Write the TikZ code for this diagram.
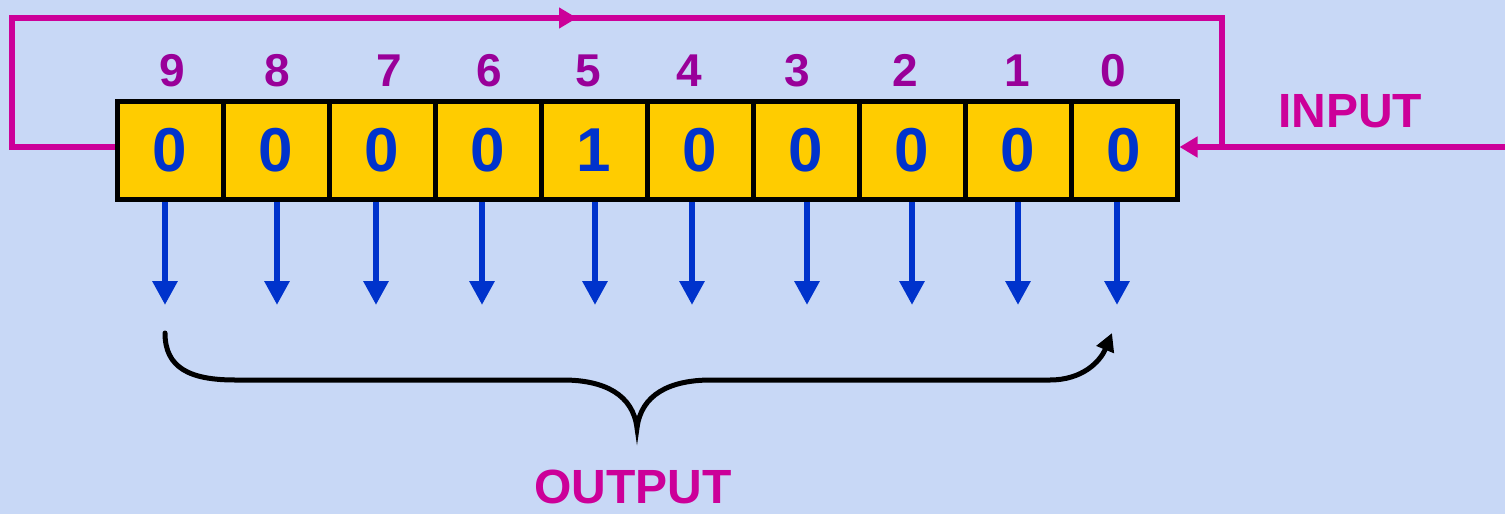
\documentclass[tikz,border=0pt]{standalone}
\usepackage{fontspec}
\setmainfont{Liberation Sans}
\usetikzlibrary{arrows.meta}
\definecolor{bg}{RGB}{200,216,246}
\definecolor{mag}{RGB}{204,0,153}
\definecolor{idx}{RGB}{153,0,153}
\definecolor{bitblue}{RGB}{0,51,204}
\definecolor{cellfill}{RGB}{255,204,0}
\begin{document}
\begin{tikzpicture}[x=0.5pt,y=-0.5pt,
  cell/.style={draw=black, line width=2.5pt, fill=cellfill, minimum width=53pt, minimum height=49pt, inner sep=0pt, font=\fontsize{31}{31}\selectfont\bfseries, text=bitblue},
  idxlab/.style={font=\fontsize{23}{23}\selectfont\bfseries, text=idx, anchor=base, inner sep=0pt},
  biglab/.style={font=\fontsize{24}{24}\selectfont\bfseries, text=mag, anchor=base, inner sep=0pt},
  magline/.style={draw=mag, line width=3pt},
  magtip/.style={-{Triangle[width=10pt,length=9pt]}},
  outarrow/.style={draw=bitblue, line width=3pt, -{Triangle[width=12pt,length=12pt]}},
  brace/.style={draw=black, line width=2.5pt, line cap=round, -{Triangle[width=9pt,length=9pt]}}]
\fill[bg] (0,0) rectangle (1505,514);
\useasboundingbox (0,0) rectangle (1505,514);
% cells
\foreach \i/\x/\v in {9/170/0,8/276/0,7/382/0,6/488/0,5/594/1,4/700/0,3/806/0,2/912/0,1/1018/0,0/1124/0}
  \node[cell] (c\i) at (\x,150) {\v};
% index labels
\foreach \i/\x in {9/172,8/277,7/389,6/489,5/588,4/689,3/797,2/905,1/1017,0/1113}
  \node[idxlab] (n\i) at (\x,86) {\i};
% output arrows
\foreach \i/\x in {9/165,8/277,7/376,6/482,5/595,4/692,3/807,2/912,1/1018,0/1117}{
  \coordinate (o\i) at (\x,305);
  \draw[outarrow] (c\i.south -| o\i) -- (o\i);
}
% feedback loop
\coordinate (fbL) at (12,147);
\coordinate (fbTL) at (12,18);
\coordinate (fbMid) at (577,18);
\coordinate (fbTR) at (1222,18);
\coordinate (fbR) at (1222,147);
\coordinate (inR) at (1505,147);
\draw[magline] ([xshift=-6pt]fbMid) -- (fbTR) -- (fbR);
\draw[magline, magtip] (c9.west |- fbL) -- (fbL) -- (fbTL) -- (fbMid);
\draw[magline, magtip] (inR) -- (c0.east |- inR);
% brace
\coordinate (bs) at (165,333);
\coordinate (bm) at (637,428);
\coordinate (be) at (1112,333);
\draw[brace] (bs) .. controls (165,368) and (190,380) .. (235,380) -- (563,380)
  .. controls (605,380) and (633,395) .. (bm)
  .. controls (641,395) and (669,380) .. (711,380) -- (1050,380)
  .. controls (1082,380) and (1100,362) .. (be);
% labels
\node[biglab] (inlab) at (1350,127) {INPUT};
\node[biglab] (outlab) at (633,503) {OUTPUT};
\end{tikzpicture}
\end{document}
